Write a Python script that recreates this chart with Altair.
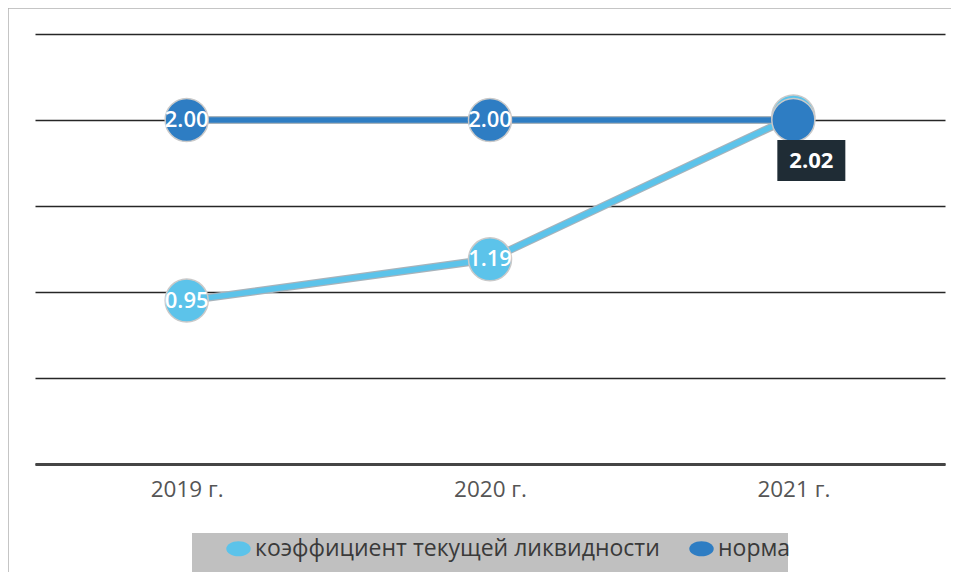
import altair as alt
import pandas as pd

# ---- data ----
years = ["2019 г.", "2020 г.", "2021 г."]
coef_values = [0.95, 1.19, 2.02]
norm_values = [2.00, 2.00, 2.00]
coef_labels = ["0.95", "1.19", ""]
norm_labels = ["2.00", "2.00", ""]
series_names = ["коэффициент текущей ликвидности", "норма"]
series_colors = ["#5cc3ea", "#2e7dc3"]
callout_year = ["2021 г."]
callout_value = [2.02]
callout_text = ["2.02"]
y_grid = [0, 0.5, 1.0, 1.5, 2.0, 2.5]

FONT = "Open Sans"

rows = []
for y, v, l in zip(years, coef_values, coef_labels):
    rows.append({"year": y, "value": v, "series": series_names[0], "label": l, "order": 0})
for y, v, l in zip(years, norm_values, norm_labels):
    rows.append({"year": y, "value": v, "series": series_names[1], "label": l, "order": 1})
df = pd.DataFrame(rows)
callout = pd.DataFrame({"year": callout_year, "value": callout_value, "text": callout_text})

xenc = alt.X(
    "year:N", sort=years,
    scale=alt.Scale(type="point", padding=0.5),
    axis=alt.Axis(title=None, labelAngle=0, ticks=False, domain=True,
                  domainColor="#454545", domainWidth=3,
                  labelFontSize=22.5, labelColor="#555555", labelFont=FONT,
                  labelPadding=14),
)
yenc = alt.Y(
    "value:Q",
    scale=alt.Scale(domain=[0, 2.5], nice=False, zero=True),
    axis=alt.Axis(title=None, labels=False, ticks=False, domain=False,
                  values=y_grid, grid=True, gridColor="#262626", gridWidth=1.6),
)
cscale = alt.Scale(domain=series_names, range=series_colors)

base = alt.Chart(df)

border = alt.Chart(callout).mark_rect(
    fillOpacity=0, stroke="#b3b3b3", strokeWidth=1.5
).encode(x=alt.value(-27), x2=alt.value(1200), y=alt.value(-26), y2=alt.value(900))

legend_bg = alt.Chart(callout).mark_rect(color="#c0c0c0").encode(
    x=alt.value(157), x2=alt.value(753), y=alt.value(499), y2=alt.value(600)
)

line_outline = base.mark_line(strokeWidth=8, color="#a7b3bb").encode(
    x=xenc, y=yenc, detail="series:N", order="order:Q"
)
lines = []
for i, s in enumerate(series_names):
    lines.append(
        base.transform_filter(alt.datum.series == s).mark_line(
            strokeWidth=5.5, color=series_colors[i]
        ).encode(x=alt.X("year:N", sort=years), y="value:Q")
    )

points = base.mark_circle(size=1850, opacity=1, stroke="#c9c9c9", strokeWidth=1.5).encode(
    x=alt.X("year:N", sort=years),
    y="value:Q",
    color=alt.Color("series:N", scale=cscale, sort=series_names,
                    legend=alt.Legend(
                        title=None, orient="none", legendX=191, legendY=502,
                        direction="horizontal",
                        symbolType="M-1,0A1,0.62 0 1,1 1,0A1,0.62 0 1,1 -1,0Z",
                        symbolSize=600, symbolStrokeWidth=0,
                        labelFontSize=23, labelFont=FONT, labelColor="#3a3a3a",
                        labelLimit=0, labelOffset=4, columnPadding=29, padding=0,
                    )),
    order="order:Q",
)

labels = base.transform_filter(alt.datum.label != "").mark_text(
    color="white", fontWeight=600, fontSize=22, font=FONT
).encode(x=alt.X("year:N", sort=years), y="value:Q", text="label:N")

callout_box = alt.Chart(callout).mark_rect(
    width=68, height=41, color="#1f2c35", xOffset=18, yOffset=44
).encode(x=alt.X("year:N", sort=years), y="value:Q")
callout_txt = alt.Chart(callout).mark_text(
    color="white", fontWeight="bold", fontSize=22, font=FONT, dx=18, dy=44
).encode(x=alt.X("year:N", sort=years), y="value:Q", text="text:N")

chart = alt.layer(
    line_outline, border, legend_bg, *lines, points, labels, callout_box, callout_txt
).properties(
    width=910, height=430,
    autosize=alt.AutoSizeParams(type="none"),
    padding={"left": 27, "top": 26, "right": 6, "bottom": 108},
    background="white",
).configure_view(stroke=None)

chart.save("out.html", embed_options={"renderer": "svg", "actions": False})
